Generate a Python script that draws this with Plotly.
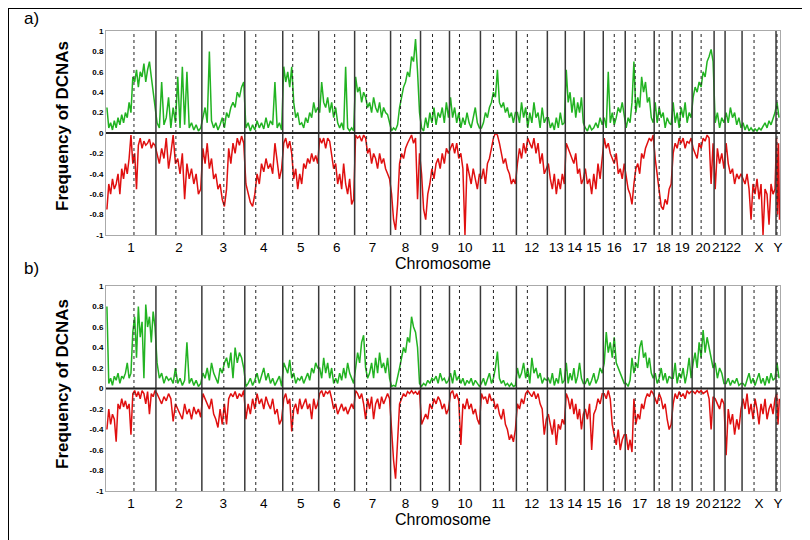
import plotly.graph_objects as go
from plotly.subplots import make_subplots

# chromosome names and their widths along the x axis (probe index units)
chroms = ["1", "2", "3", "4", "5", "6", "7", "8", "9", "10", "11", "12",
          "13", "14", "15", "16", "17", "18", "19", "20", "21", "22", "X", "Y"]
chrom_size = [50, 46, 43, 38, 36, 36, 36, 30, 29, 31, 36, 31,
              18, 19, 19, 22, 29, 18, 20, 22, 11, 17, 34, 4]
# centromere position from the start of each chromosome (None = not drawn)
centromere = [28, 20, 22, 11, 10, 16, 12, 10, 12, 10, 13, 11,
              None, None, None, 11, 10, 5, 8, 9, None, None, 12, 1]

# panel a) gain / loss frequencies, one list per chromosome
a_gain = [
    [0.25, 0.05, 0.1, 0.03, 0.12, 0.05, 0.15, 0.08, 0.18, 0.1, 0.2, 0.15, 0.3, 0.2, 0.55, 0.5, 0.62, 0.45, 0.6, 0.55, 0.68, 0.5, 0.62, 0.7, 0.55, 0.4, 0.3],
    [0.1, 0.05, 0.5, 0.08, 0.15, 0.35, 0.05, 0.25, 0.1, 0.55, 0.05, 0.65, 0.08, 0.6, 0.05, 0.1, 0.03, 0.08, 0.02, 0.05],
    [0.15, 0.25, 0.1, 0.8, 0.12, 0.05, 0.1, 0.03, 0.08, 0.15, 0.05, 0.2, 0.15, 0.25, 0.3, 0.25, 0.4, 0.35, 0.45, 0.5],
    [0.05, 0.1, 0.02, 0.08, 0.03, 0.12, 0.05, 0.1, 0.04, 0.15, 0.05, 0.12, 0.08, 0.5, 0.05, 0.1, 0.03],
    [0.65, 0.5, 0.6, 0.45, 0.65, 0.3, 0.15, 0.2, 0.08, 0.1, 0.05, 0.15, 0.1, 0.2, 0.15, 0.3, 0.2, 0.25],
    [0.2, 0.5, 0.3, 0.25, 0.35, 0.2, 0.3, 0.15, 0.25, 0.1, 0.05, 0.1, 0.03, 0.65, 0.05, 0.02, 0.05, 0.02],
    [0.55, 0.4, 0.45, 0.3, 0.4, 0.35, 0.25, 0.3, 0.2, 0.35, 0.25, 0.2, 0.3, 0.15, 0.25, 0.2, 0.18, 0.1],
    [0.02, 0.05, 0.03, 0.08, 0.25, 0.35, 0.45, 0.5, 0.6, 0.55, 0.75, 0.7, 0.92, 0.6, 0.2],
    [0.05, 0.02, 0.15, 0.05, 0.2, 0.1, 0.25, 0.08, 0.2, 0.15, 0.25, 0.1, 0.3, 0.15],
    [0.35, 0.15, 0.25, 0.1, 0.2, 0.05, 0.15, 0.08, 0.2, 0.1, 0.05, 0.15, 0.25, 0.1, 0.05],
    [0.05, 0.1, 0.2, 0.15, 0.25, 0.3, 0.4, 0.35, 0.62, 0.3, 0.25, 0.3, 0.2, 0.25, 0.15, 0.2, 0.1, 0.2],
    [0.2, 0.1, 0.3, 0.15, 0.25, 0.05, 0.2, 0.1, 0.3, 0.15, 0.2, 0.05, 0.25, 0.1, 0.15],
    [0.15, 0.05, 0.1, 0.03, 0.15, 0.05, 0.2, 0.08, 0.1],
    [0.62, 0.3, 0.4, 0.2, 0.35, 0.15, 0.3, 0.2, 0.35, 0.1],
    [0.05, 0.02, 0.08, 0.03, 0.05, 0.1, 0.05, 0.15, 0.08],
    [0.15, 0.05, 0.6, 0.1, 0.2, 0.08, 0.15, 0.25, 0.2, 0.3, 0.15],
    [0.05, 0.15, 0.1, 0.3, 0.7, 0.2, 0.35, 0.25, 0.55, 0.4, 0.5, 0.3, 0.35, 0.15, 0.1],
    [0.3, 0.1, 0.25, 0.15, 0.2, 0.05, 0.15, 0.1, 0.08],
    [0.3, 0.1, 0.2, 0.05, 0.25, 0.15, 0.3, 0.1, 0.2, 0.15],
    [0.35, 0.45, 0.4, 0.5, 0.45, 0.6, 0.55, 0.7, 0.75, 0.82, 0.7],
    [0.1, 0.2, 0.05, 0.15, 0.1],
    [0.2, 0.1, 0.25, 0.15, 0.2, 0.08, 0.15, 0.05],
    [0.1, 0.03, 0.08, 0.02, 0.05, 0.02, 0.04, 0.02, 0.05, 0.03, 0.06, 0.1, 0.05, 0.12, 0.08, 0.15, 0.2],
    [0.3, 0.15],
]
a_loss = [
    [-0.75, -0.5, -0.6, -0.45, -0.55, -0.5, -0.4, -0.6, -0.35, -0.45, -0.3, -0.4, -0.25, -0.02, -0.3, -0.2, -0.55, -0.12, -0.05, -0.15, -0.08, -0.12, -0.1, -0.06, -0.15, -0.1, -0.12],
    [-0.2, -0.3, -0.15, -0.25, -0.05, -0.35, -0.2, -0.02, -0.3, -0.25, -0.4, -0.2, -0.65, -0.3, -0.45, -0.35, -0.5, -0.4, -0.6, -0.55],
    [-0.15, -0.3, -0.1, -0.35, -0.25, -0.45, -0.4, -0.55, -0.5, -0.65, -0.72, -0.55, -0.15, -0.3, -0.1, -0.2, -0.05, -0.12, -0.03, -0.1],
    [-0.5, -0.6, -0.68, -0.72, -0.6, -0.4, -0.5, -0.3, -0.38, -0.25, -0.35, -0.3, -0.4, -0.1, -0.3, -0.45, -0.35],
    [-0.1, -0.05, -0.15, -0.08, -0.2, -0.45, -0.35, -0.55, -0.4, -0.5, -0.3, -0.35, -0.25, -0.3, -0.2, -0.28, -0.22, -0.3],
    [-0.05, -0.1, -0.05, -0.15, -0.05, -0.08, -0.2, -0.35, -0.3, -0.5, -0.4, -0.55, -0.3, -0.5, -0.6, -0.45, -0.7, -0.65],
    [-0.02, -0.05, -0.03, -0.08, -0.02, -0.05, -0.2, -0.15, -0.3, -0.2, -0.25, -0.35, -0.2, -0.3, -0.25, -0.35, -0.4, -0.45],
    [-0.6, -0.85, -0.95, -0.7, -0.3, -0.2, -0.25, -0.15, -0.1, -0.05, -0.02, -0.1, -0.05, -0.65, -0.2],
    [-0.4, -0.75, -0.85, -0.6, -0.5, -0.35, -0.45, -0.3, -0.25, -0.35, -0.2, -0.3, -0.15, -0.2],
    [-0.15, -0.1, -0.2, -0.1, -0.25, -0.2, -0.35, -1.0, -0.3, -0.4, -0.5, -0.35, -0.45, -0.55, -0.4],
    [-0.45, -0.35, -0.5, -0.3, -0.25, -0.15, -0.05, 0.0, -0.02, -0.1, -0.2, -0.3, -0.25, -0.35, -0.4, -0.5, -0.45, -0.5],
    [-0.3, -0.15, -0.25, -0.1, -0.2, -0.05, -0.1, -0.15, -0.05, -0.2, -0.1, -0.3, -0.2, -0.4, -0.35],
    [-0.3, -0.45, -0.55, -0.4, -0.6, -0.45, -0.55, -0.4, -0.5],
    [-0.1, -0.15, -0.2, -0.25, -0.3, -0.2, -0.4, -0.35, -0.5, -0.45],
    [-0.35, -0.5, -0.45, -0.6, -0.4, -0.55, -0.3, -0.45, -0.25],
    [-0.05, -0.15, -0.1, -0.2, -0.25, -0.3, -0.2, -0.4, -0.35, -0.45, -0.3],
    [-0.45, -0.55, -0.6, -0.7, -0.5, -0.35, -0.3, -0.4, -0.2, -0.25, -0.15, -0.1, -0.05, -0.08, -0.02],
    [-0.25, -0.4, -0.6, -0.72, -0.75, -0.65, -0.7, -0.55, -0.5],
    [-0.2, -0.1, -0.15, -0.05, -0.1, -0.05, -0.15, -0.08, -0.1, -0.05],
    [-0.15, -0.2, -0.25, -0.1, -0.15, -0.05, -0.08, -0.02, -0.05, -0.5, -0.1],
    [-0.55, -0.15, -0.3, -0.2, -0.35],
    [-0.1, -0.3, -0.4, -0.35, -0.5, -0.4, -0.45, -0.4],
    [-0.45, -0.5, -0.4, -0.55, -0.85, -0.5, -0.6, -0.45, -0.65, -0.5, -1.0, -0.55, -0.6, -0.9, -0.5, -0.6, -0.55],
    [-0.05, -0.8, -0.1, -0.85],
]

# panel b)
b_gain = [
    [0.8, 0.05, 0.1, 0.03, 0.12, 0.08, 0.15, 0.05, 0.12, 0.1, 0.15, 0.25, 0.1, 0.15, 0.55, 0.7, 0.3, 0.8, 0.5, 0.65, 0.1, 0.82, 0.6, 0.7, 0.45, 0.75, 0.6],
    [0.25, 0.1, 0.15, 0.05, 0.12, 0.08, 0.1, 0.05, 0.2, 0.05, 0.1, 0.03, 0.08, 0.45, 0.05, 0.1, 0.03, 0.08, 0.02, 0.05],
    [0.15, 0.1, 0.2, 0.08, 0.25, 0.15, 0.1, 0.05, 0.2, 0.15, 0.25, 0.3, 0.2, 0.35, 0.1, 0.4, 0.25, 0.35, 0.3, 0.2],
    [0.02, 0.05, 0.1, 0.03, 0.08, 0.15, 0.05, 0.12, 0.2, 0.08, 0.15, 0.05, 0.1, 0.03, 0.08, 0.12, 0.02],
    [0.25, 0.2, 0.15, 0.28, 0.1, 0.15, 0.05, 0.1, 0.08, 0.12, 0.05, 0.1, 0.15, 0.08, 0.2, 0.15, 0.25, 0.2],
    [0.2, 0.1, 0.3, 0.15, 0.25, 0.1, 0.2, 0.05, 0.1, 0.05, 0.15, 0.08, 0.2, 0.1, 0.25, 0.15, 0.1, 0.05],
    [0.2, 0.35, 0.25, 0.45, 0.52, 0.2, 0.1, 0.15, 0.25, 0.1, 0.3, 0.15, 0.35, 0.2, 0.25, 0.15, 0.3, 0.1],
    [0.02, 0.03, 0.02, 0.1, 0.2, 0.3, 0.4, 0.35, 0.5, 0.45, 0.7, 0.6, 0.55, 0.4, 0.05],
    [0.02, 0.05, 0.03, 0.08, 0.05, 0.1, 0.08, 0.12, 0.05, 0.15, 0.08, 0.1, 0.05, 0.08],
    [0.15, 0.05, 0.18, 0.08, 0.12, 0.05, 0.1, 0.03, 0.08, 0.05, 0.1, 0.03, 0.08, 0.05, 0.02],
    [0.05, 0.1, 0.03, 0.08, 0.15, 0.05, 0.1, 0.2, 0.36, 0.1, 0.05, 0.08, 0.03, 0.05, 0.02, 0.05, 0.02, 0.03],
    [0.2, 0.1, 0.15, 0.25, 0.1, 0.2, 0.05, 0.3, 0.15, 0.2, 0.1, 0.15, 0.05, 0.1, 0.08],
    [0.1, 0.05, 0.15, 0.03, 0.1, 0.05, 0.2, 0.05, 0.08],
    [0.25, 0.05, 0.15, 0.08, 0.2, 0.05, 0.12, 0.25, 0.1, 0.05],
    [0.05, 0.1, 0.03, 0.08, 0.15, 0.05, 0.1, 0.2, 0.15],
    [0.25, 0.55, 0.35, 0.45, 0.3, 0.5, 0.25, 0.2, 0.15, 0.1, 0.05],
    [0.05, 0.02, 0.08, 0.3, 0.15, 0.25, 0.2, 0.4, 0.47, 0.3, 0.35, 0.2, 0.3, 0.15, 0.1],
    [0.15, 0.05, 0.1, 0.2, 0.08, 0.15, 0.05, 0.12, 0.1],
    [0.1, 0.25, 0.05, 0.15, 0.1, 0.2, 0.05, 0.15, 0.3, 0.1],
    [0.25, 0.35, 0.2, 0.45, 0.3, 0.57, 0.35, 0.5, 0.4, 0.3, 0.2],
    [0.25, 0.1, 0.2, 0.15, 0.05],
    [0.05, 0.1, 0.03, 0.08, 0.05, 0.1, 0.03, 0.05],
    [0.05, 0.02, 0.08, 0.15, 0.05, 0.1, 0.03, 0.08, 0.15, 0.05, 0.1, 0.03, 0.12, 0.05, 0.15, 0.08, 0.1],
    [0.25, 0.1],
]
b_loss = [
    [-0.4, -0.2, -0.35, -0.25, -0.3, -0.52, -0.15, -0.2, -0.1, -0.18, -0.12, -0.2, -0.15, -0.45, -0.05, -0.02, -0.08, -0.03, -0.1, -0.02, -0.05, -0.15, -0.03, -0.25, -0.05, -0.08, -0.02],
    [-0.05, -0.1, -0.15, -0.08, -0.12, -0.05, -0.1, -0.32, -0.15, -0.2, -0.25, -0.3, -0.15, -0.25, -0.2, -0.3, -0.18, -0.25, -0.2, -0.28],
    [-0.05, -0.1, -0.15, -0.2, -0.1, -0.25, -0.3, -0.38, -0.2, -0.35, -0.15, -0.35, -0.1, -0.05, -0.08, -0.03, -0.1, -0.05, -0.08, -0.02],
    [-0.3, -0.15, -0.25, -0.1, -0.2, -0.05, -0.15, -0.1, -0.2, -0.08, -0.15, -0.2, -0.1, -0.25, -0.2, -0.35, -0.3],
    [-0.1, -0.05, -0.15, -0.1, -0.42, -0.2, -0.15, -0.25, -0.1, -0.2, -0.15, -0.1, -0.2, -0.15, -0.3, -0.1, -0.2, -0.15],
    [-0.05, -0.02, -0.08, -0.03, -0.05, -0.02, -0.1, -0.2, -0.15, -0.25, -0.2, -0.15, -0.22, -0.18, -0.25, -0.2, -0.15, -0.2],
    [-0.02, -0.05, -0.1, -0.05, -0.15, -0.3, -0.1, -0.2, -0.08, -0.3, -0.15, -0.1, -0.2, -0.08, -0.15, -0.1, -0.05, -0.1],
    [-0.45, -0.7, -0.88, -0.55, -0.15, -0.1, -0.05, -0.08, -0.03, -0.05, -0.02, -0.05, -0.03, -0.06, -0.02],
    [-0.35, -0.3, -0.25, -0.3, -0.15, -0.2, -0.1, -0.15, -0.08, -0.12, -0.2, -0.15, -0.25, -0.2],
    [-0.05, -0.02, -0.1, -0.05, -0.12, -0.55, -0.15, -0.2, -0.1, -0.2, -0.15, -0.25, -0.2, -0.3, -0.35],
    [-0.05, -0.1, -0.08, -0.15, -0.05, -0.12, -0.1, -0.2, -0.15, -0.25, -0.3, -0.2, -0.35, -0.4, -0.5, -0.45, -0.52, -0.4],
    [-0.15, -0.2, -0.1, -0.15, -0.05, -0.02, -0.05, -0.08, -0.03, -0.1, -0.05, -0.15, -0.2, -0.45, -0.3],
    [-0.25, -0.35, -0.45, -0.3, -0.55, -0.35, -0.4, -0.3, -0.35],
    [-0.05, -0.1, -0.2, -0.1, -0.25, -0.15, -0.3, -0.2, -0.4, -0.25],
    [-0.2, -0.3, -0.15, -0.6, -0.25, -0.2, -0.1, -0.15, -0.05],
    [-0.05, -0.1, -0.02, -0.1, -0.35, -0.45, -0.55, -0.4, -0.6, -0.5, -0.45],
    [-0.45, -0.6, -0.5, -0.62, -0.1, -0.35, -0.25, -0.3, -0.15, -0.2, -0.1, -0.05, -0.08, -0.02, -0.05],
    [-0.1, -0.15, -0.05, -0.1, -0.2, -0.15, -0.3, -0.4, -0.35],
    [-0.15, -0.05, -0.1, -0.03, -0.08, -0.05, -0.1, -0.02, -0.05, -0.03],
    [-0.03, -0.05, -0.02, -0.04, -0.02, -0.05, -0.03, -0.02, -0.1, -0.4, -0.08],
    [-0.1, -0.15, -0.2, -0.1, -0.15],
    [-0.65, -0.2, -0.35, -0.25, -0.45, -0.3, -0.4, -0.2],
    [-0.1, -0.2, -0.05, -0.25, -0.15, -0.3, -0.1, -0.2, -0.35, -0.15, -0.25, -0.1, -0.3, -0.2, -0.15, -0.25, -0.1],
    [-0.05, -0.35, -0.1],
]

y_ticks = [1, 0.8, 0.6, 0.4, 0.2, 0, -0.2, -0.4, -0.6, -0.8, -1]
y_ticktext = ["1", "0.8", "0.6", "0.4", "0.2", "0", "-0.2", "-0.4", "-0.6", "-0.8", "-1"]

GREEN = "#22b322"
RED = "#e01010"
FONT = "Liberation Sans, Arial, sans-serif"

# chromosome start positions along the axis
starts = []
pos = 0
for s in chrom_size:
    starts.append(pos)
    pos += s
total = pos
centers = [st + s / 2 for st, s in zip(starts, chrom_size)]


def spread(series):
    """place each chromosome's values evenly inside its own slot"""
    xs, ys = [], []
    for st, s, vals in zip(starts, chrom_size, series):
        n = len(vals)
        for i, v in enumerate(vals):
            xs.append(st + (i + 0.5) * s / n)
            ys.append(v)
    return xs, ys


fig = make_subplots(rows=2, cols=1)

for row, (gain, loss) in enumerate([(a_gain, a_loss), (b_gain, b_loss)], start=1):
    gx, gy = spread(gain)
    lx, ly = spread(loss)
    fig.add_trace(go.Scatter(x=gx, y=gy, mode="lines", line=dict(color=GREEN, width=1.5),
                             showlegend=False), row=row, col=1)
    fig.add_trace(go.Scatter(x=lx, y=ly, mode="lines", line=dict(color=RED, width=1.5),
                             showlegend=False), row=row, col=1)

# chromosome boundaries (solid) and centromeres (dotted)
for yref, xref in [("y domain", "x"), ("y2 domain", "x2")]:
    for st in starts[1:]:
        fig.add_shape(type="line", xref=xref, yref=yref, x0=st, x1=st, y0=0, y1=1,
                      line=dict(color="#3a3a3a", width=1.5), layer="above")
    for st, c in zip(starts, centromere):
        if c is None:
            continue
        fig.add_shape(type="line", xref=xref, yref=yref, x0=st + c, x1=st + c, y0=0, y1=1,
                      line=dict(color="#222", width=1, dash="dot"), layer="above")
    yr = yref.split()[0]
    fig.add_shape(type="line", xref=xref, yref=yr, x0=0, x1=total, y0=0, y1=0,
                  line=dict(color="#222", width=2), layer="above")

# the page body adds an 8px offset, so the figure is made 8px smaller and the
# margins are set to land the plot where the reference has it
W, H = 802, 532
OFF = 8
ml, mr, mt, mb = 98, 30, 23, 49
pw, ph = W - ml - mr, H - mt - mb


def px(xs):
    return (xs - OFF - ml) / pw


def py(ys):
    return (H - mb - (ys - OFF)) / ph


# top and left edges of the outer frame
fig.add_shape(type="line", xref="paper", yref="paper", x0=px(OFF + 0.5), x1=px(W + OFF), y0=py(OFF + 0.5), y1=py(OFF + 0.5),
              line=dict(color="black", width=1))
fig.add_shape(type="line", xref="paper", yref="paper", x0=px(OFF + 0.5), x1=px(OFF + 0.5), y0=py(OFF), y1=py(H + OFF),
              line=dict(color="black", width=1))

xa = dict(range=[0, total], tickvals=centers, ticktext=chroms, ticks="", tickangle=0,
          automargin=False,
          showline=True, mirror=True, linecolor="#aaaaaa", linewidth=1,
          showgrid=False, zeroline=False,
          tickfont=dict(family=FONT, size=13.5, color="black"),
          title=dict(text="Chromosome", font=dict(family=FONT, size=16, color="black"), standoff=0))
ya = dict(range=[-1, 1], tickvals=y_ticks, ticktext=y_ticktext, ticks="", automargin=False,
          showline=True, mirror=True, linecolor="#aaaaaa", linewidth=1,
          showgrid=False, zeroline=False,
          tickfont=dict(family=FONT, size=8, color="black", weight="bold"))

fig.update_layout(
    width=W, height=H, plot_bgcolor="white", paper_bgcolor="white",
    margin=dict(l=ml, r=mr, t=mt, b=mb, autoexpand=False),
    xaxis=dict(xa, domain=[0, 1]), xaxis2=dict(xa, domain=[0, 1]),
    yaxis=dict(ya, domain=[py(235), 1.0]),
    yaxis2=dict(ya, domain=[0, py(286)]),
)

# y titles and panel letters
for yc, letter, ly in [(126, "a)", 19), (384, "b)", 268)]:
    fig.add_annotation(xref="paper", yref="paper", x=px(62), y=py(yc),
                       xanchor="center", yanchor="middle",
                       text="Frequency of DCNAs", textangle=-90, showarrow=False,
                       font=dict(family=FONT, size=17, color="black", weight="bold"))
    fig.add_annotation(xref="paper", yref="paper", x=px(31), y=py(ly),
                       xanchor="center", yanchor="middle",
                       text=letter, showarrow=False,
                       font=dict(family=FONT, size=17, color="black"))

fig.write_html("out.html")
